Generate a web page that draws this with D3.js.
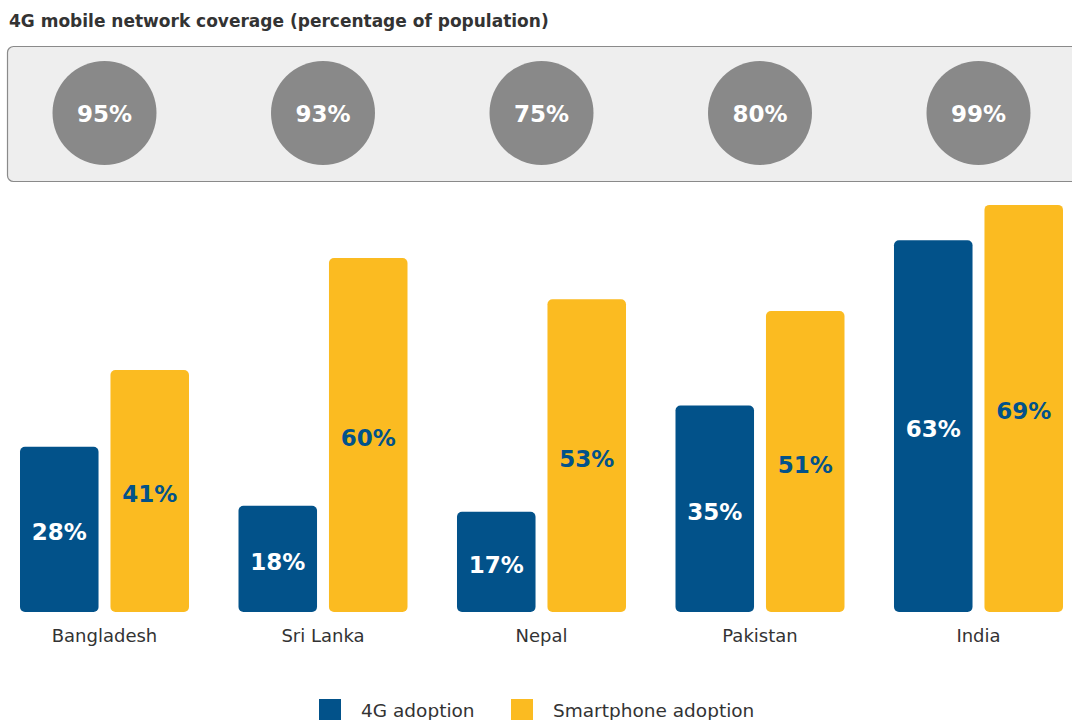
<!DOCTYPE html>
<html>
<head>
<meta charset="utf-8">
<script src="https://cdn.jsdelivr.net/npm/d3@7"></script>
<style>
  html, body { margin: 0; padding: 0; background: #ffffff; }
  svg { display: block; }
</style>
</head>
<body>
<script>
// Country data
const countries = ["Bangladesh", "Sri Lanka", "Nepal", "Pakistan", "India"];
const coverage4G = [95, 93, 75, 80, 99];
const adoption4G = [28, 18, 17, 35, 63];
const adoptionSmartphone = [41, 60, 53, 51, 69];
const seriesNames = ["4G adoption", "Smartphone adoption"];
const seriesColors = ["#02528a", "#fbbb21"];

const W = 1072, H = 720;
const font = "'DejaVu Sans', 'Noto Sans', sans-serif";

const svg = d3.select("body").append("svg")
  .attr("width", W).attr("height", H);

// Title
svg.append("text")
  .attr("x", 9).attr("y", 27)
  .attr("font-family", font).attr("font-weight", 700)
  .attr("font-size", 17).attr("fill", "#333")
  .text("4G mobile network coverage (percentage of population)");

// Coverage panel (runs past the right edge)
svg.append("rect")
  .attr("x", 7.5).attr("y", 46.5)
  .attr("width", 1080).attr("height", 135)
  .attr("rx", 6)
  .attr("fill", "#eeeeee").attr("stroke", "#8a8a8a").attr("stroke-width", 1.2);

const x0 = d3.scaleBand()
  .domain(countries)
  .range([20, 1063])
  .paddingInner(0.2265)
  .paddingOuter(0);

const circles = svg.append("g");
countries.forEach((c, i) => {
  const cx = x0(c) + x0.bandwidth() / 2;
  circles.append("circle")
    .attr("cx", cx).attr("cy", 113).attr("r", 52)
    .attr("fill", "#898989");
  circles.append("text")
    .attr("x", cx).attr("y", 114)
    .attr("text-anchor", "middle").attr("dominant-baseline", "central")
    .attr("font-family", font).attr("font-weight", 700)
    .attr("font-size", 23).attr("fill", "#fff")
    .text(coverage4G[i] + "%");
});

// Bars
const y = d3.scaleLinear().domain([0, 100]).range([612, 22]);
const x1 = d3.scaleBand()
  .domain([0, 1])
  .range([0, x0.bandwidth()])
  .paddingInner(0.132);

const series = [adoption4G, adoptionSmartphone];
const bars = svg.append("g");
countries.forEach((c, i) => {
  const g = bars.append("g").attr("transform", `translate(${x0(c)},0)`);
  series.forEach((vals, s) => {
    const v = vals[i];
    const top = y(v), h = y(0) - y(v);
    const bx = x1(s), bw = x1.bandwidth();
    g.append("rect")
      .attr("x", bx).attr("y", top)
      .attr("width", bw).attr("height", h)
      .attr("rx", 5)
      .attr("fill", seriesColors[s]);
    g.append("text")
      .attr("x", bx + bw / 2).attr("y", top + h / 2 + 3)
      .attr("text-anchor", "middle").attr("dominant-baseline", "central")
      .attr("font-family", font).attr("font-weight", 700)
      .attr("font-size", 23)
      .attr("fill", s === 0 ? "#ffffff" : "#02528a")
      .text(v + "%");
  });
  g.append("text")
    .attr("x", x0.bandwidth() / 2).attr("y", 642)
    .attr("text-anchor", "middle")
    .attr("font-family", font).attr("font-size", 18)
    .attr("fill", "#333")
    .text(c);
});

// Legend
const legendX = [319, 511];
seriesNames.forEach((n, s) => {
  svg.append("rect")
    .attr("x", legendX[s]).attr("y", 699)
    .attr("width", 22).attr("height", 22)
    .attr("fill", seriesColors[s]);
  svg.append("text")
    .attr("x", legendX[s] + 42).attr("y", 717)
    .attr("font-family", font).attr("font-size", 18.5)
    .attr("fill", "#333")
    .text(n);
});
</script>
</body>
</html>
